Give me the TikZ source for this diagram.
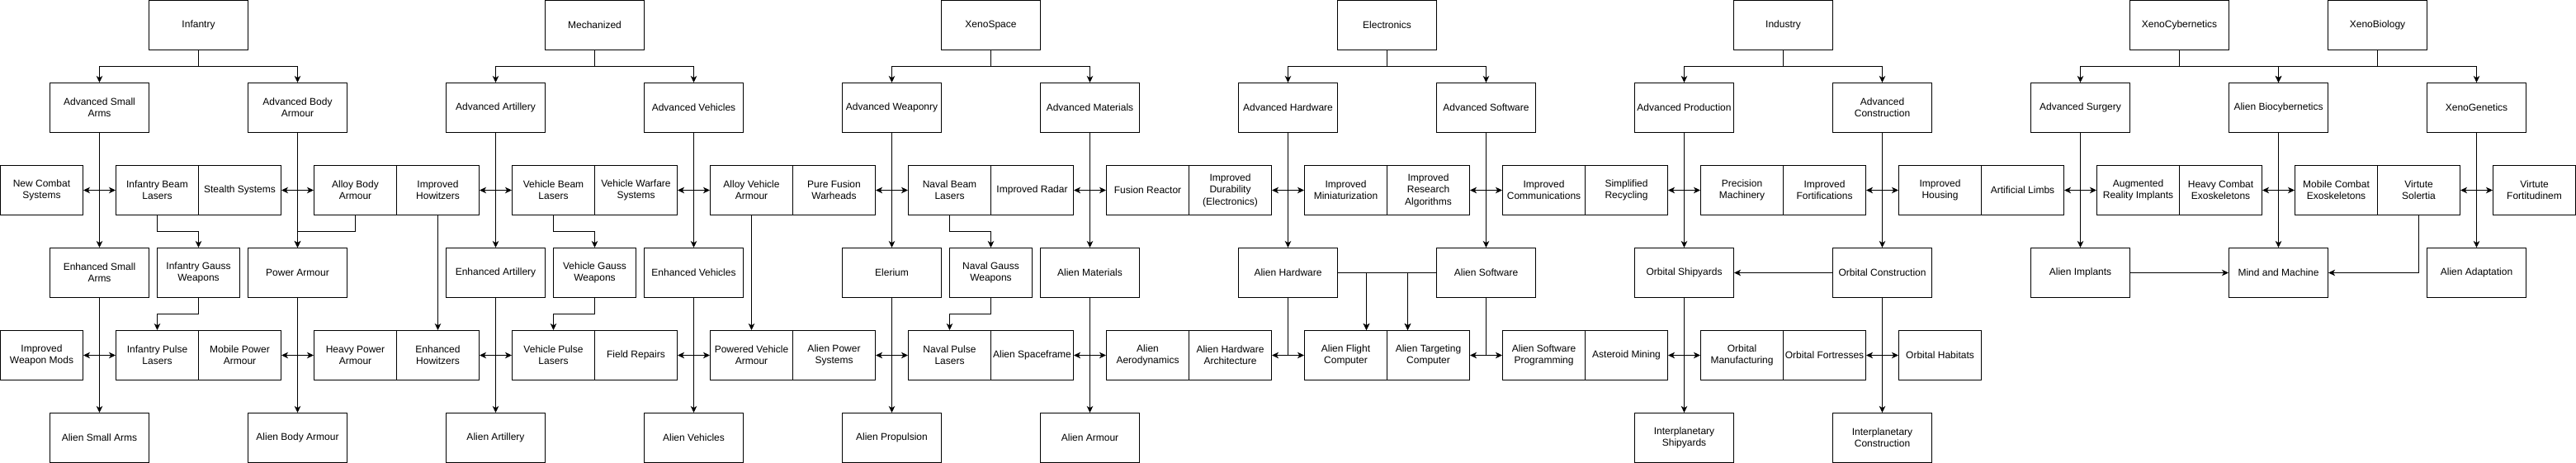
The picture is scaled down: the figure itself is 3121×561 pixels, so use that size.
\documentclass[tikz,border=0pt]{standalone}
\usepackage{fontspec}
\setmainfont{Liberation Sans}
\usetikzlibrary{arrows.meta}
\tikzset{
  box/.style={draw=black, line width=1pt, inner sep=0pt, align=center,
    minimum height=60pt, font=\fontsize{12pt}{14.4pt}\selectfont, text=black},
  big/.style={box, minimum width=120pt},
  small/.style={box, minimum width=100pt},
  arr/.style={draw=black, line width=1pt, -{Stealth[length=8pt,width=7.5pt,inset=2.2pt]}},
}
\newcommand\treeedge[2]{\draw[arr] (#1.south) -- (#1.south |- 0,80) -| (#2.north);}
\begin{document}
\begin{tikzpicture}[x=1pt,y=-1pt]
\useasboundingbox[fill=white] (-0.5,-0.5) rectangle (3120.5,560.5);
% Row 1
\node[big] (inf) at (240,30) {Infantry};
\node[big] (mech) at (720,30) {Mechanized};
\node[big] (xspace) at (1200,30) {XenoSpace};
\node[big] (elec) at (1680,30) {Electronics};
\node[big] (ind) at (2160,30) {Industry};
\node[big] (xcyb) at (2640,30) {XenoCybernetics};
\node[big] (xbio) at (2880,30) {XenoBiology};
% Row 2
\node[big] (asa) at (120,130) {Advanced Small\\Arms};
\node[big] (aba) at (360,130) {Advanced Body\\Armour};
\node[big] (aart) at (600,130) {Advanced Artillery};
\node[big] (aveh) at (840,130) {Advanced Vehicles};
\node[big] (awep) at (1080,130) {Advanced Weaponry};
\node[big] (amat) at (1320,130) {Advanced Materials};
\node[big] (ahw) at (1560,130) {Advanced Hardware};
\node[big] (asw) at (1800,130) {Advanced Software};
\node[big] (aprod) at (2040,130) {Advanced Production};
\node[big] (acon) at (2280,130) {Advanced\\Construction};
\node[big] (asurg) at (2520,130) {Advanced Surgery};
\node[big] (abio) at (2760,130) {Alien Biocybernetics};
\node[big] (xgen) at (3000,130) {XenoGenetics};
% Row 3
\node[small] (ncs) at (50,230) {New Combat\\Systems};
\node[small] (ibl) at (190,230) {Infantry Beam\\Lasers};
\node[small] (stealth) at (290,230) {Stealth Systems};
\node[small] (abarm) at (430,230) {Alloy Body\\Armour};
\node[small] (ihow) at (530,230) {Improved\\Howitzers};
\node[small] (vbl) at (670,230) {Vehicle Beam\\Lasers};
\node[small] (vws) at (770,230) {Vehicle Warfare\\Systems};
\node[small] (ava) at (910,230) {Alloy Vehicle\\Armour};
\node[small] (pfw) at (1010,230) {Pure Fusion\\Warheads};
\node[small] (nbl) at (1150,230) {Naval Beam\\Lasers};
\node[small] (irad) at (1250,230) {Improved Radar};
\node[small] (fus) at (1390,230) {Fusion Reactor};
\node[small] (idur) at (1490,230) {Improved\\Durability\\(Electronics)};
\node[small] (imin) at (1630,230) {Improved\\Miniaturization};
\node[small] (ira) at (1730,230) {Improved\\Research\\Algorithms};
\node[small] (icom) at (1870,230) {Improved\\Communications};
\node[small] (srec) at (1970,230) {Simplified\\Recycling};
\node[small] (pmach) at (2110,230) {Precision\\Machinery};
\node[small] (ifort) at (2210,230) {Improved\\Fortifications};
\node[small] (ihous) at (2350,230) {Improved\\Housing};
\node[small] (alimb) at (2450,230) {Artificial Limbs};
\node[small] (ari) at (2590,230) {Augmented\\Reality Implants};
\node[small] (hce) at (2690,230) {Heavy Combat\\Exoskeletons};
\node[small] (mce) at (2830,230) {Mobile Combat\\Exoskeletons};
\node[small] (vsol) at (2930,230) {Virtute\\Solertia};
\node[small] (vfort) at (3070,230) {Virtute\\Fortitudinem};
% Row 4
\node[big] (esa) at (120,330) {Enhanced Small\\Arms};
\node[small] (igw) at (240,330) {Infantry Gauss\\Weapons};
\node[big] (parm) at (360,330) {Power Armour};
\node[big] (eart) at (600,330) {Enhanced Artillery};
\node[small] (vgw) at (720,330) {Vehicle Gauss\\Weapons};
\node[big] (eveh) at (840,330) {Enhanced Vehicles};
\node[big] (eler) at (1080,330) {Elerium};
\node[small] (ngw) at (1200,330) {Naval Gauss\\Weapons};
\node[big] (almat) at (1320,330) {Alien Materials};
\node[big] (alhw) at (1560,330) {Alien Hardware};
\node[big] (alsw) at (1800,330) {Alien Software};
\node[big] (oship) at (2040,330) {Orbital Shipyards};
\node[big] (ocon) at (2280,330) {Orbital Construction};
\node[big] (aimp) at (2520,330) {Alien Implants};
\node[big] (mam) at (2760,330) {Mind and Machine};
\node[big] (aadapt) at (3000,330) {Alien Adaptation};
% Row 5
\node[small] (iwm) at (50,430) {Improved\\Weapon Mods};
\node[small] (ipl) at (190,430) {Infantry Pulse\\Lasers};
\node[small] (mpa) at (290,430) {Mobile Power\\Armour};
\node[small] (hpa) at (430,430) {Heavy Power\\Armour};
\node[small] (ehow) at (530,430) {Enhanced\\Howitzers};
\node[small] (vpl) at (670,430) {Vehicle Pulse\\Lasers};
\node[small] (frep) at (770,430) {Field Repairs};
\node[small] (pva) at (910,430) {Powered Vehicle\\Armour};
\node[small] (aps) at (1010,430) {Alien Power\\Systems};
\node[small] (npl) at (1150,430) {Naval Pulse\\Lasers};
\node[small] (asf) at (1250,430) {Alien Spaceframe};
\node[small] (aaero) at (1390,430) {Alien\\Aerodynamics};
\node[small] (aha) at (1490,430) {Alien Hardware\\Architecture};
\node[small] (afc) at (1630,430) {Alien Flight\\Computer};
\node[small] (atc) at (1730,430) {Alien Targeting\\Computer};
\node[small] (asp) at (1870,430) {Alien Software\\Programming};
\node[small] (amine) at (1970,430) {Asteroid Mining};
\node[small] (oman) at (2110,430) {Orbital\\Manufacturing};
\node[small] (ofort) at (2210,430) {Orbital Fortresses};
\node[small] (ohab) at (2350,430) {Orbital Habitats};
% Row 6
\node[big] (asarms) at (120,530) {Alien Small Arms};
\node[big] (alba) at (360,530) {Alien Body Armour};
\node[big] (alart) at (600,530) {Alien Artillery};
\node[big] (alveh) at (840,530) {Alien Vehicles};
\node[big] (aprop) at (1080,530) {Alien Propulsion};
\node[big] (alarm) at (1320,530) {Alien Armour};
\node[big] (ishp) at (2040,530) {Interplanetary\\Shipyards};
\node[big] (icon) at (2280,530) {Interplanetary\\Construction};
% Tree edges from top
\treeedge{inf}{asa}\treeedge{inf}{aba}
\treeedge{mech}{aart}\treeedge{mech}{aveh}
\treeedge{xspace}{awep}\treeedge{xspace}{amat}
\treeedge{elec}{ahw}\treeedge{elec}{asw}
\treeedge{ind}{aprod}\treeedge{ind}{acon}
\treeedge{xcyb}{asurg}\treeedge{xcyb}{abio}
\treeedge{xbio}{abio}\treeedge{xbio}{xgen}
% Vertical chains
\foreach \a/\b in {asa/esa, esa/asarms, aba/parm, parm/alba, aart/eart, eart/alart,
  aveh/eveh, eveh/alveh, awep/eler, eler/aprop, amat/almat, almat/alarm,
  ahw/alhw, asw/alsw, aprod/oship, oship/ishp, acon/ocon, ocon/icon,
  asurg/aimp, abio/mam, xgen/aadapt, ihow/ehow, ava/pva, ocon/oship, aimp/mam}
  \draw[arr] (\a) -- (\b);
% Side branches, row 3
\foreach \a/\l/\r in {asa/ncs/ibl, aba/stealth/abarm, aart/ihow/vbl, aveh/vws/ava,
  awep/pfw/nbl, amat/irad/fus, ahw/idur/imin, asw/ira/icom, aprod/srec/pmach,
  acon/ifort/ihous, asurg/alimb/ari, abio/hce/mce, xgen/vsol/vfort,
  esa/iwm/ipl, parm/mpa/hpa, eart/ehow/vpl, eveh/frep/pva, eler/aps/npl,
  almat/asf/aaero, alhw/aha/afc, alsw/atc/asp, oship/amine/oman, ocon/ofort/ohab}
  {\draw[arr] (\a.south) |- (\l.east);
   \draw[arr] (\a.south) |- (\r.west);}
% Stepped edges
\foreach \a/\b/\y in {ibl/igw/280, igw/ipl/380, abarm/parm/280, vbl/vgw/280,
  vgw/vpl/380, nbl/ngw/280, ngw/npl/380}
  \draw[arr] (\a.south) -- (\a.south |- 0,\y) -| (\b.north);
% Alien hardware / software to computers
\draw[arr] (alhw.east) -| ([xshift=25pt]afc.north);
\draw[arr] (alhw.east) -| ([xshift=-25pt]atc.north);
\draw[arr] (alsw.west) -| ([xshift=-25pt]atc.north);
\draw[arr] (alsw.west) -| ([xshift=25pt]afc.north);
% Virtute Solertia to Mind and Machine
\draw[arr] (vsol.south) |- (mam.east);
\end{tikzpicture}
\end{document}
